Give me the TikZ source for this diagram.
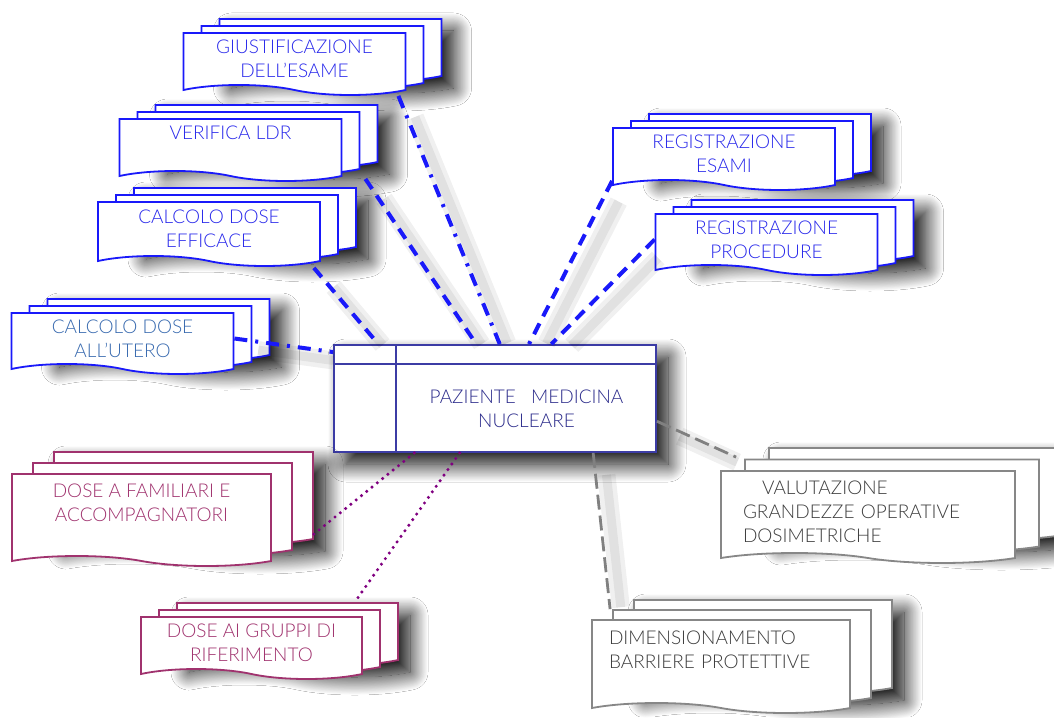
\documentclass[tikz,border=0pt]{standalone}
\usepackage{fontspec}
\IfFontExistsTF{Lato Light}{\setmainfont{Lato Light}}{\setmainfont{Lato}}
\usepackage{xcolor}
\usetikzlibrary{shapes.symbols, shadows, shadows.blur, calc, positioning}

\definecolor{docblue}{RGB}{25,25,250}
\definecolor{doctext}{RGB}{40,40,235}
\definecolor{uterotext}{RGB}{55,105,175}
\definecolor{pazborder}{RGB}{60,60,165}
\definecolor{paztext}{RGB}{45,45,140}
\definecolor{rose}{RGB}{160,50,110}
\definecolor{linkpurple}{RGB}{128,0,128}
\definecolor{docgray}{RGB}{135,135,135}
\definecolor{graytext}{RGB}{60,60,60}
\definecolor{linkgray}{RGB}{128,128,128}

\begin{document}
\begin{tikzpicture}[
    x=0.5pt, y=-0.5pt,
    % Styles
    doc/.style={tape, tape bend top=none, tape bend bottom=out and in, tape bend height=5pt, fill=white, line width=0.9pt, align=center, inner sep=2pt, font=\fontsize{9.5}{12}\selectfont},
    sheets/.style n args={3}{
        blur shadow={shadow xshift=#1*2+6pt, shadow yshift=#2*2-6pt, shadow blur radius=9pt, shadow blur steps=30, shadow opacity=100},
        copy shadow={shadow xshift=#1*2, shadow yshift=#2*2, draw=#3, fill=white},
        copy shadow={shadow xshift=#1, shadow yshift=#2, draw=#3, fill=white}},
    bluedoc/.style={doc, draw=docblue, text=doctext, sheets={9pt}{3.5pt}{docblue}, minimum width=111pt, minimum height=31pt},
    rosedoc/.style={doc, draw=rose, text=rose},
    graydoc/.style={doc, draw=docgray, text=graytext, align=left},
    mainbox/.style={rectangle, draw=pazborder, fill=white, line width=0.9pt, minimum width=161pt, minimum height=53.5pt,
        blur shadow={shadow xshift=6pt, shadow yshift=-6pt, shadow blur radius=9pt, shadow blur steps=30, shadow opacity=100}},
    maintext/.style={text=paztext, align=center, font=\fontsize{9.5}{12}\selectfont},
    linkshade/.style={
        preaction={draw=black, opacity=0.06, line width=9pt, solid, shorten <=6pt, shorten >=6pt, transform canvas={shift={(6pt,-5pt)}}},
        preaction={draw=black, opacity=0.06, line width=4.5pt, solid, shorten <=6pt, shorten >=6pt, transform canvas={shift={(6pt,-5pt)}}}},
    dashlink/.style={draw=docblue, line width=2pt, dash pattern=on 6pt off 4pt, linkshade},
    dotdashlink/.style={draw=docblue, line width=2pt, dash pattern=on 6.5pt off 4pt on 1.5pt off 4pt, linkshade},
    dotlink/.style={draw=linkpurple, line width=1.7pt, line cap=round, dash pattern=on 0pt off 3.4pt},
    graylink/.style={draw=linkgray, line width=1.4pt, dash pattern=on 7.5pt off 3pt, linkshade}
]
    \path[use as bounding box, fill=white] (0,0) rectangle (1054,717);

    % Central patient box
    \node[mainbox] (paziente) at (495,398.5) {};
    \draw[draw=pazborder, line width=0.9pt] ([yshift=-10pt]paziente.north west) -- ([yshift=-10pt]paziente.north east);
    \draw[draw=pazborder, line width=0.9pt] ([xshift=31.5pt]paziente.north west) -- ([xshift=31.5pt]paziente.south west);
    \node[maintext] (paztitle) at ($(paziente.south east)!0.5!([shift={(31.5pt,-10pt)}]paziente.north west)$) {PAZIENTE\hspace{0.8em}MEDICINA\\NUCLEARE};

    % Documents, upper left
    \node[bluedoc] (giust) at (294.5,59) {GIUSTIFICAZIONE\\DELL’ESAME};
    \node[bluedoc] (verifica) at (230.5,145) {VERIFICA LDR\\\mbox{}};
    \node[bluedoc, minimum height=32pt] (efficace) at (209,229) {CALCOLO DOSE\\EFFICACE};
    \node[bluedoc, text=uterotext, minimum height=30.5pt] (utero) at (122.5,338.5) {CALCOLO DOSE\\ALL’UTERO};

    % Documents, upper right
    \node[bluedoc] (esami) at (724,154) {REGISTRAZIONE\\ESAMI};
    \node[bluedoc, minimum height=30.5pt] (procedure) at (766.5,239.5) {REGISTRAZIONE\\PROCEDURE};

    % Documents, lower left
    \node[rosedoc, sheets={10.5pt}{5.5pt}{rose}, minimum width=129.5pt, minimum height=46pt] (familiari) at (141.5,515) {DOSE A FAMILIARI E\\ACCOMPAGNATORI\\\mbox{}};
    \node[rosedoc, sheets={9pt}{3.5pt}{rose}, minimum width=110.5pt, minimum height=31pt] (gruppi) at (251.5,643) {DOSE AI GRUPPI DI\\RIFERIMENTO};

    % Documents, lower right
    \node[graydoc, sheets={10.5pt}{5pt}{docgray}, inner xsep=8.5pt, text width=112pt, minimum height=46.5pt] (dimension) at (721,661.5) {DIMENSIONAMENTO\\BARRIERE PROTETTIVE\\\mbox{}};
    \node[graydoc, sheets={12pt}{5.75pt}{docgray}, inner xsep=11pt, text width=125pt, minimum height=46pt] (valutazione) at (868,512) {\hspace*{1em}VALUTAZIONE\\GRANDEZZE OPERATIVE\\DOSIMETRICHE};

    % Links
    \draw[dotdashlink] ([shift={(-8,10)}]giust.south east) -- (paziente.85);
    \draw[dashlink] ([shift={(23,7)}]verifica.south east) -- (paziente.109);
    \draw[dashlink] ([shift={(-7,11)}]efficace.south east) -- (paziente.155);
    \draw[dotdashlink] (utero.east) -- (paziente.164);
    \draw[dashlink] (esami.south west) -- (paziente.58);
    \draw[dashlink] (procedure.west) -- (paziente.44);
    \draw[dotlink] (paziente.214) -- ([shift={(41,-22)}]familiari.south east);
    \draw[dotlink] (paziente.237) -- ([shift={(104,-15)}]gruppi.north);
    \draw[graylink] (paziente.-8) -- ([shift={(16,-13)}]valutazione.north west);
    \draw[graylink] (paziente.-29) -- ([shift={(19,-10)}]dimension.north west);
\end{tikzpicture}
\end{document}
